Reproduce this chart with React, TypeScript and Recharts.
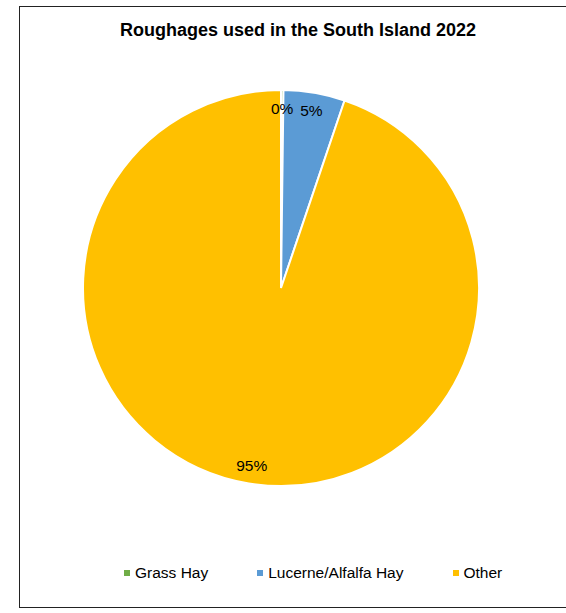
import { PieChart, Pie, Cell, Legend } from 'recharts';

const categories = ['Grass Hay', 'Lucerne/Alfalfa Hay', 'Other'];
const shares = [0.2, 5.0, 94.8];
const colors = ['#70AD47', '#5B9BD5', '#FFC000'];

const data = categories.map((name, i) => ({ name, value: shares[i] }));

const RADIAN = Math.PI / 180;

const renderLabel = (props: any) => {
  const { cx, cy, midAngle, percent } = props;
  const r = 180;
  const x = cx + r * Math.cos(-midAngle * RADIAN);
  const y = cy + r * Math.sin(-midAngle * RADIAN);
  return (
    <text
      x={x}
      y={y}
      textAnchor="middle"
      dominantBaseline="central"
      fill="#000"
      fontSize={15.5}
      fontFamily="'Liberation Sans', Arial, sans-serif"
    >
      {Math.round(percent * 100)}%
    </text>
  );
};

const renderLegend = () => (
  <div
    style={{
      display: 'flex',
      alignItems: 'center',
      fontFamily: "'Liberation Sans', Arial, sans-serif",
      fontSize: 15.5,
      color: '#000',
    }}
  >
    {categories.map((name, i) => (
      <div key={name} style={{ display: 'flex', alignItems: 'center', marginRight: 49 }}>
        <span style={{ display: 'inline-block', width: 6, height: 6, background: colors[i], marginRight: 5 }} />
        <span>{name}</span>
      </div>
    ))}
  </div>
);

export default function App() {
  return (
    <div style={{ position: 'absolute', left: 0, top: 0, width: 566, height: 613, overflow: 'hidden', background: '#fff' }}>
      <div
        style={{
          position: 'absolute',
          left: 19,
          top: 6,
          width: 580,
          height: 600,
          border: '1px solid #222',
        }}
      />
      <div
        style={{
          position: 'absolute',
          left: 0,
          top: 20,
          width: 596,
          textAlign: 'center',
          fontFamily: "'Liberation Sans', Arial, sans-serif",
          fontWeight: 'bold',
          fontSize: 18,
          color: '#000',
        }}
      >
        Roughages used in the South Island 2022
      </div>
      <div style={{ position: 'absolute', left: 0, top: 0 }}>
        <PieChart width={566} height={613}>
          <Pie
            data={data}
            dataKey="value"
            nameKey="name"
            cx={276}
            cy={283}
            outerRadius={198}
            startAngle={90}
            endAngle={-270}
            stroke="#fff"
            strokeWidth={2}
            label={renderLabel}
            labelLine={false}
            isAnimationActive={false}
          >
            {data.map((d, i) => (
              <Cell key={d.name} fill={colors[i]} />
            ))}
          </Pie>
          <Legend
            content={renderLegend}
            wrapperStyle={{ position: 'absolute', left: 124, top: 564, width: 440 }}
          />
        </PieChart>
      </div>
    </div>
  );
}
